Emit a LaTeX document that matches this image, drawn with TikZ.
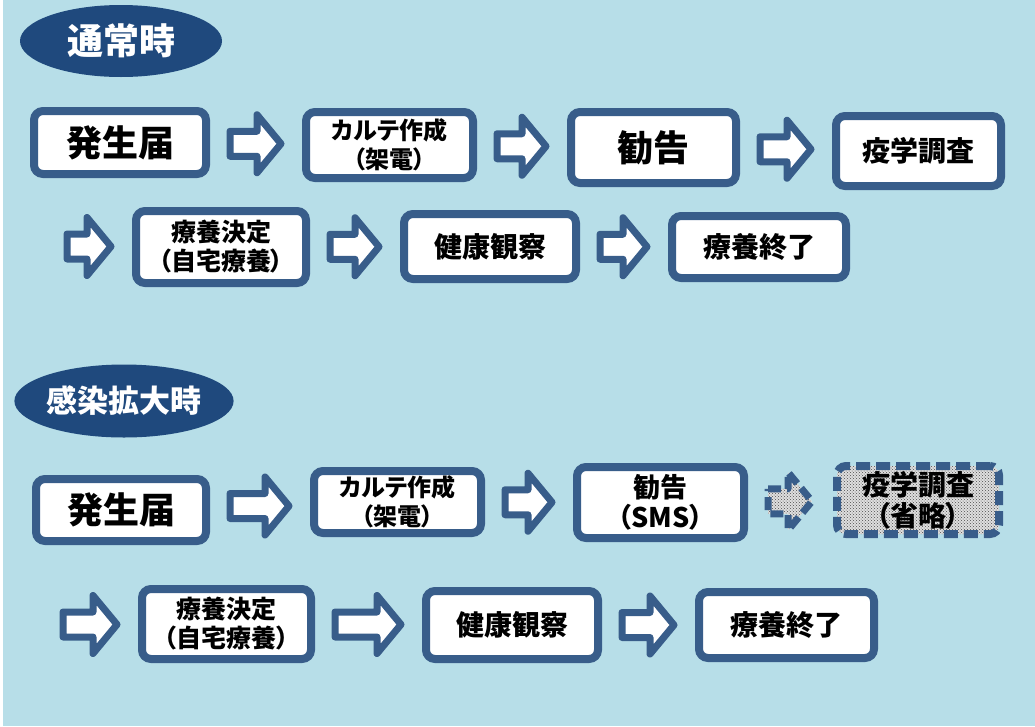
\documentclass[tikz,border=0pt]{standalone}
\usepackage{fontspec}
\newfontfamily\jp{Noto Sans CJK JP}[RawFeature={+palt}]
\usetikzlibrary{calc,patterns,shapes.geometric}

\definecolor{bgblue}{HTML}{B7DEE8}
\definecolor{edgeblue}{HTML}{385D8A}
\definecolor{navy}{HTML}{1F497D}

\tikzset{
  stepbox/.style={draw=edgeblue, line width=8pt, fill=white, rounded corners=9pt, align=center, inner sep=0pt},
  skipbox/.style={stepbox, dash pattern=on 14pt off 6pt, preaction={fill=gray!25}, pattern=crosshatch dots, pattern color=black!70},
  flowarr/.style={draw=edgeblue, line width=7pt, line join=round, fill=white},
  skiparr/.style={flowarr, dash pattern=on 13pt off 6pt, preaction={fill=gray!25}, pattern=crosshatch dots, pattern color=black!70},
  phase/.style={ellipse, fill=navy, text=white, inner sep=0pt},
  bigtext/.style={font=\jp\bfseries\fontsize{36}{40}\selectfont},
  midtext/.style={font=\jp\bfseries\fontsize{28}{31}\selectfont},
  smalltext/.style={font=\jp\bfseries\fontsize{24}{29}\selectfont},
}

% block arrow between two anchors
\newcommand{\flowarrow}[3][]{%
  \draw[flowarr,#1] let \p1=(#2), \p2=(#3), \p3=($(#2)!0.5!(#3)$) in
    (\x1+20pt,\y3+12.5pt) -- (\x2-45pt,\y3+12.5pt) -- (\x2-45pt,\y3+29pt)
    -- (\x2-21pt,\y3) -- (\x2-45pt,\y3-29pt) -- (\x2-45pt,\y3-12.5pt)
    -- (\x1+20pt,\y3-12.5pt) -- cycle;}

\begin{document}
\begin{tikzpicture}[x=1pt, y=-1pt]
        \useasboundingbox (0,0) rectangle (1035,726);
        \fill[white] (0,0) rectangle (1035,726);
        \fill[bgblue] (3,0) rectangle (1035,726);

        % Normal flow
        \node[phase, bigtext, minimum width=202, minimum height=72] (normal) at (121,41) {通常時};
        \node[stepbox, bigtext, minimum width=172, minimum height=63] (hassei1) at (120,142.5) {発生届};
        \node[stepbox, smalltext, minimum width=167, minimum height=66] (karte1) at (389.5,145) {カルテ作成\\（架電）};
        \node[stepbox, bigtext, minimum width=165, minimum height=71] (kankoku1) at (653.5,147.5) {勧告};
        \node[stepbox, midtext, minimum width=165, minimum height=70] (ekigaku1) at (918.5,151) {疫学調査};
        \coordinate (wrap1) at (47,246);
        \node[stepbox, font=\jp\bfseries\fontsize{25}{29}\selectfont, minimum width=170, minimum height=72] (ryoyo1) at (221,247) {療養決定\\（自宅療養）};
        \node[stepbox, midtext, minimum width=172, minimum height=65] (kenko1) at (490,246.5) {健康観察};
        \node[stepbox, midtext, minimum width=174, minimum height=62] (shuryo1) at (759,247) {療養終了};

        \flowarrow{hassei1.east}{karte1.west}
        \flowarrow{karte1.east}{kankoku1.west}
        \flowarrow{kankoku1.east}{ekigaku1.west}
        \flowarrow{wrap1}{ryoyo1.west}
        \flowarrow{ryoyo1.east}{kenko1.west}
        \flowarrow{kenko1.east}{shuryo1.west}

        % Expanded infection flow
        \node[phase, font=\jp\bfseries\fontsize{31}{34}\selectfont, minimum width=206, minimum height=73] (spread) at (124,401) {感染拡大時};
        \node[stepbox, bigtext, minimum width=170, minimum height=62] (hassei2) at (121,510) {発生届};
        \node[stepbox, smalltext, minimum width=167, minimum height=62] (karte2) at (397.5,502) {カルテ作成\\（架電）};
        \node[stepbox, font=\jp\bfseries\fontsize{27}{30}\selectfont, minimum width=167, minimum height=71] (kankoku2) at (660.5,502.5) {勧告\\（SMS）};
        \node[skipbox, midtext, minimum width=162, minimum height=68] (ekigaku2) at (918,500) {疫学調査\\（省略）};
        \coordinate (wrap2) at (43,625);
        \node[stepbox, font=\jp\bfseries\fontsize{25}{29}\selectfont, minimum width=169, minimum height=70] (ryoyo2) at (226.5,624) {療養決定\\（自宅療養）};
        \node[stepbox, midtext, minimum width=172, minimum height=68] (kenko2) at (512,625) {健康観察};
        \node[stepbox, midtext, minimum width=175, minimum height=66] (shuryo2) at (786.5,625) {療養終了};

        \flowarrow{hassei2.east}{karte2.west}
        \flowarrow{karte2.east}{kankoku2.west}
        \flowarrow[skiparr]{kankoku2.east}{ekigaku2.west}
        \flowarrow{wrap2}{ryoyo2.west}
        \flowarrow{ryoyo2.east}{kenko2.west}
        \flowarrow{kenko2.east}{shuryo2.west}
    \end{tikzpicture}
\end{document}
